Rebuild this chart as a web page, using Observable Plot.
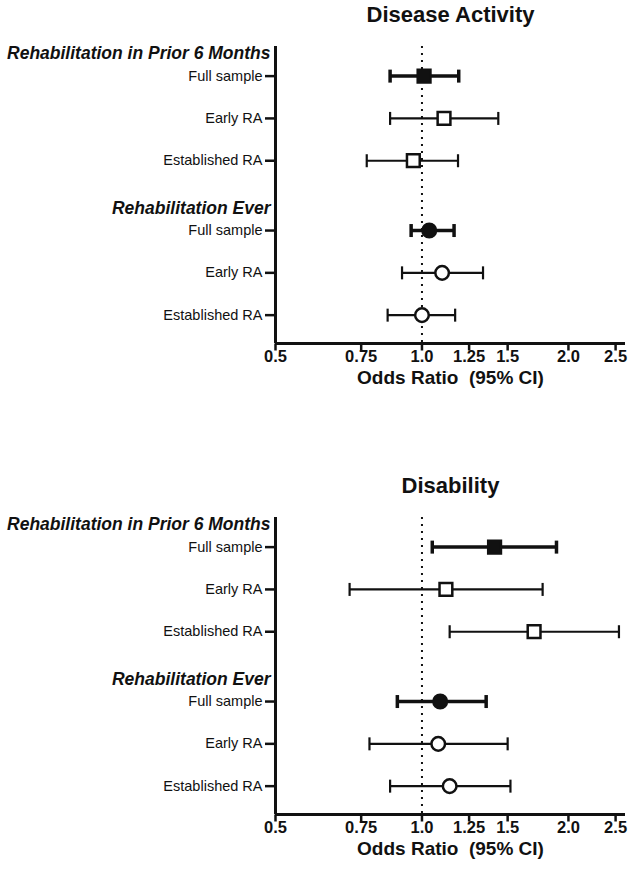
<!DOCTYPE html>
<html>
<head>
<meta charset="utf-8">
<script src="https://cdn.jsdelivr.net/npm/d3@7"></script>
<script src="https://cdn.jsdelivr.net/npm/@observablehq/plot@0.6"></script>
<style>
  html, body { margin: 0; padding: 0; background: #fff; }
  #chart svg { display: block; }
</style>
</head>
<body>
<div id="chart"></div>
<script>
// ---- Data ----
const panelTitles = ["Disease Activity", "Disability"];
const groups = ["Rehabilitation in Prior 6 Months", "Rehabilitation Ever"];
const subgroups = ["Full sample", "Early RA", "Established RA"];

// order: prior 6 months (full, early, established), ever (full, early, established)
const daOR = [1.01, 1.11, 0.96, 1.035, 1.10, 1.00];
const daLo = [0.86, 0.86, 0.77, 0.95, 0.91, 0.85];
const daHi = [1.19, 1.435, 1.186, 1.164, 1.335, 1.17];

const disOR = [1.41, 1.12, 1.70, 1.09, 1.08, 1.14];
const disLo = [1.05, 0.71, 1.14, 0.89, 0.78, 0.86];
const disHi = [1.89, 1.77, 2.54, 1.355, 1.50, 1.52];

const xTicks = [0.5, 0.75, 1, 1.25, 1.5, 2, 2.5];
const xTickLabels = ["0.5", "0.75", "1.0", "1.25", "1.5", "2.0", "2.5"];
const axisLabel = "Odds Ratio\u00a0 (95% CI)";

// ---- Layout constants ----
const GROUP_STEP = 3.65;
const HEADER_OFFSET = -0.53;
const yDomain = [-0.70, 6.32];
const xDomain = [0.5, 2.62];
const FONT = "'Liberation Sans', Arial, Helvetica, sans-serif";

const vline = {
  draw(ctx, size) {
    const h = Math.sqrt(size / Math.PI);
    ctx.moveTo(0, -h);
    ctx.lineTo(0, h);
  }
};

const xTickData = xTicks.map((t, i) => ({ v: t, label: xTickLabels[i] }));

function makePanel(title, OR, LO, HI, height, marginBottom) {
  const rows = [];
  groups.forEach((g, gi) => {
    subgroups.forEach((s, si) => {
      const k = gi * subgroups.length + si;
      rows.push({
        group: g, sub: s, y: gi * GROUP_STEP + si,
        or: OR[k], lo: LO[k], hi: HI[k],
        full: si === 0, shape: gi === 0 ? "square" : "circle"
      });
    });
  });
  const headers = groups.map((g, gi) => ({ name: g, y: gi * GROUP_STEP + HEADER_OFFSET }));
  const yLabelMap = new Map(rows.map(d => [d.y, d.sub]));
  const full = rows.filter(d => d.full);
  const part = rows.filter(d => !d.full);

  return Plot.plot({
    width: 630,
    height,
    marginLeft: 275,
    marginRight: 5,
    marginTop: 46,
    marginBottom,
    style: { fontFamily: FONT, color: "#111", background: "#fff", overflow: "visible" },
    x: { type: "log", domain: xDomain, label: null, axis: null },
    y: { domain: yDomain, reverse: true, label: null },
    marks: [
      // reference line at OR = 1
      Plot.ruleX([1], { stroke: "#111", strokeWidth: 2, strokeDasharray: "2,5" }),
      // axis lines
      Plot.ruleX([xDomain[0]], { stroke: "#111", strokeWidth: 3 }),
      Plot.ruleY([yDomain[1]], { stroke: "#111", strokeWidth: 3 }),
      // x ticks and labels
      Plot.dot(xTickData, {
        x: "v", frameAnchor: "bottom", dy: 3.5, symbol: vline, r: 3.5,
        stroke: "#111", strokeWidth: 2.5
      }),
      Plot.text(xTickData, {
        x: "v", text: "label", frameAnchor: "bottom", dy: 18,
        fontSize: 16.5, fontWeight: "bold", fill: "#111"
      }),
      Plot.axisY(rows.map(d => d.y), {
        tickFormat: d => yLabelMap.get(d),
        tickSize: 10, tickPadding: 3,
        fontSize: 14.5, strokeWidth: 2.5, label: null
      }),
      // group headers
      Plot.text(headers, {
        y: "y", text: "name", frameAnchor: "left", textAnchor: "end", dx: -5,
        fontSize: 17.5, fontWeight: "bold", fontStyle: "italic", fill: "#111"
      }),
      // CI lines
      Plot.ruleY(full, { y: "y", x1: "lo", x2: "hi", stroke: "#111", strokeWidth: 3.5 }),
      Plot.ruleY(part, { y: "y", x1: "lo", x2: "hi", stroke: "#111", strokeWidth: 2.2 }),
      // caps
      Plot.dot(full, { x: "lo", y: "y", symbol: vline, r: 6.5, stroke: "#111", strokeWidth: 3.5 }),
      Plot.dot(full, { x: "hi", y: "y", symbol: vline, r: 6.5, stroke: "#111", strokeWidth: 3.5 }),
      Plot.dot(part, { x: "lo", y: "y", symbol: vline, r: 6.5, stroke: "#111", strokeWidth: 2.2 }),
      Plot.dot(part, { x: "hi", y: "y", symbol: vline, r: 6.5, stroke: "#111", strokeWidth: 2.2 }),
      // point estimates
      Plot.dot(rows.filter(d => d.shape === "square"), {
        x: "or", y: "y", symbol: "square", r: 7.2,
        fill: d => d.full ? "#111" : "#fff", stroke: "#111", strokeWidth: 2.5
      }),
      Plot.dot(rows.filter(d => d.shape === "circle"), {
        x: "or", y: "y", symbol: "circle", r: 6.8,
        fill: d => d.full ? "#111" : "#fff", stroke: "#111", strokeWidth: 2.5
      }),
      // title
      Plot.text([title], {
        text: d => d, frameAnchor: "top", dy: -40,
        fontSize: 22, fontWeight: "bold", fill: "#111"
      }),
      // x axis label
      Plot.text([axisLabel], {
        text: d => d, frameAnchor: "bottom", dy: 40,
        fontSize: 19, fontWeight: "bold", fill: "#111"
      })
    ]
  });
}

const chart = document.getElementById("chart");
chart.appendChild(makePanel(panelTitles[0], daOR, daLo, daHi, 471, 128));
chart.appendChild(makePanel(panelTitles[1], disOR, disLo, disHi, 416, 73));
</script>
</body>
</html>
